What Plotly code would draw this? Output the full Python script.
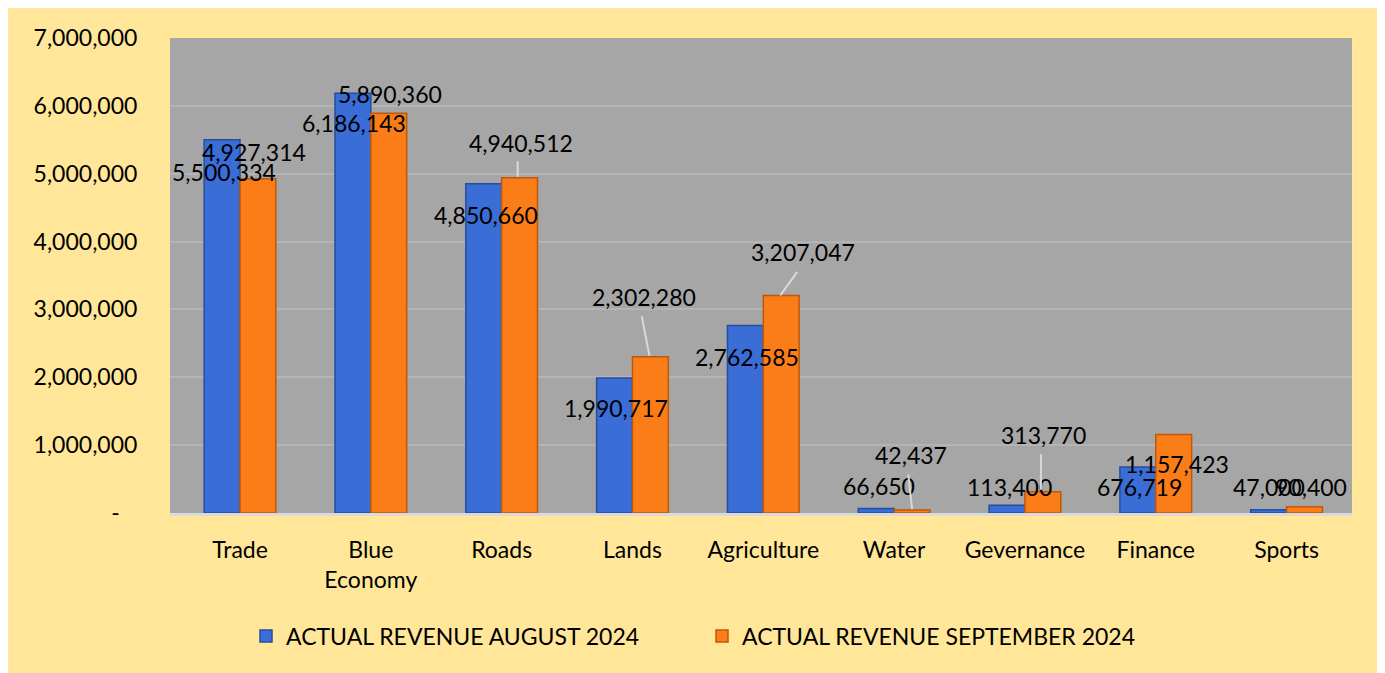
import plotly.graph_objects as go

categories = ["Trade", "Blue<br>Economy", "Roads", "Lands", "Agriculture",
              "Water", "Gevernance", "Finance", "Sports"]
aug_values = [5500334, 6186143, 4850660, 1990717, 2762585, 66650, 113400, 676719, 47000]
sep_values = [4927314, 5890360, 4940512, 2302280, 3207047, 42437, 313770, 1157423, 90400]
series_names = ["ACTUAL REVENUE AUGUST 2024", "ACTUAL REVENUE SEPTEMBER 2024"]
tick_vals = [0, 1000000, 2000000, 3000000, 4000000, 5000000, 6000000, 7000000]
tick_text = ["-\u00a0\u00a0\u00a0", "1,000,000", "2,000,000", "3,000,000", "4,000,000",
             "5,000,000", "6,000,000", "7,000,000"]

FONT = "Lato"
BLUE, BLUE_EDGE = "#3A6DD6", "#244E9E"
ORANGE, ORANGE_EDGE = "#FB7D18", "#C0570B"

fig = go.Figure()
fig.add_trace(go.Bar(x=categories, y=aug_values, name=series_names[0],
                     marker=dict(color=BLUE, line=dict(color=BLUE_EDGE, width=1.5))))
fig.add_trace(go.Bar(x=categories, y=sep_values, name=series_names[1],
                     marker=dict(color=ORANGE, line=dict(color=ORANGE_EDGE, width=1.5))))

# label offsets (pixels) relative to bar-top centre: (dx, dy up)
aug_off = [(2, -32), (1, -30), (2, -31), (2, -30), (2, -31), (3, 22), (3, 18), (2, -20), (0, 23)]
sep_off = [(-4, 27), (1, 19), (1, 35), (-6, 60), (22, 43), (-1, 55), (1, 57), (3, -30), (6, 20)]
# leader lines for september labels: (tip dx, tip dy up, start ax, start ay)
leaders = {2: (-2, 1, 0, -17), 3: (-1, 1, -8, -41), 4: (-1, 0, 18, -25),
           5: (0, 1, -4, -36), 6: (-2, 2, 0, -37)}

bar_dx = 18
for i, c in enumerate(categories):
    for vals, offs, sign in ((aug_values, aug_off, -1), (sep_values, sep_off, 1)):
        v = vals[i]
        dx, dy = offs[i]
        fig.add_annotation(x=c, y=v, text=f"{v:,}", showarrow=False,
                           xshift=sign * bar_dx + dx, yshift=dy,
                           font=dict(family=FONT, size=23, color="black"))
    if i in leaders:
        tdx, tdy, ax, ay = leaders[i]
        fig.add_annotation(x=c, y=sep_values[i], text="", showarrow=True,
                           xshift=bar_dx + tdx, yshift=tdy, ax=ax, ay=ay,
                           arrowhead=0, arrowwidth=2, arrowcolor="#D9D9D9",
                           standoff=0, startstandoff=0)

fig.update_layout(
    width=1373, height=673,
    margin=dict(l=162, r=29, t=30, b=168),
    paper_bgcolor="#FFE699", plot_bgcolor="#A6A6A6",
    barmode="group", bargap=0.452, bargroupgap=0,
    font=dict(family=FONT, size=23, color="black"),
    showlegend=True,
    legend=dict(orientation="h", x=0.0643, xanchor="left", y=-0.259, yanchor="middle",
                font=dict(family=FONT, size=23, color="black"),
                bgcolor="rgba(0,0,0,0)", entrywidth=411, entrywidthmode="pixels",
                traceorder="normal"),
    xaxis=dict(showgrid=False, showline=True, linecolor="#DADADA", linewidth=3,
               ticks="outside", ticklen=14, tickcolor="rgba(0,0,0,0)",
               tickfont=dict(family=FONT, size=23), fixedrange=True),
    yaxis=dict(range=[0, 7000000], tickvals=tick_vals, ticktext=tick_text,
               showgrid=True, gridcolor="#B4B4B4", gridwidth=2, zeroline=False,
               ticks="outside", ticklen=27, tickcolor="rgba(0,0,0,0)",
               tickfont=dict(family=FONT, size=23), showline=False),
)

fig.write_html("out.html")
